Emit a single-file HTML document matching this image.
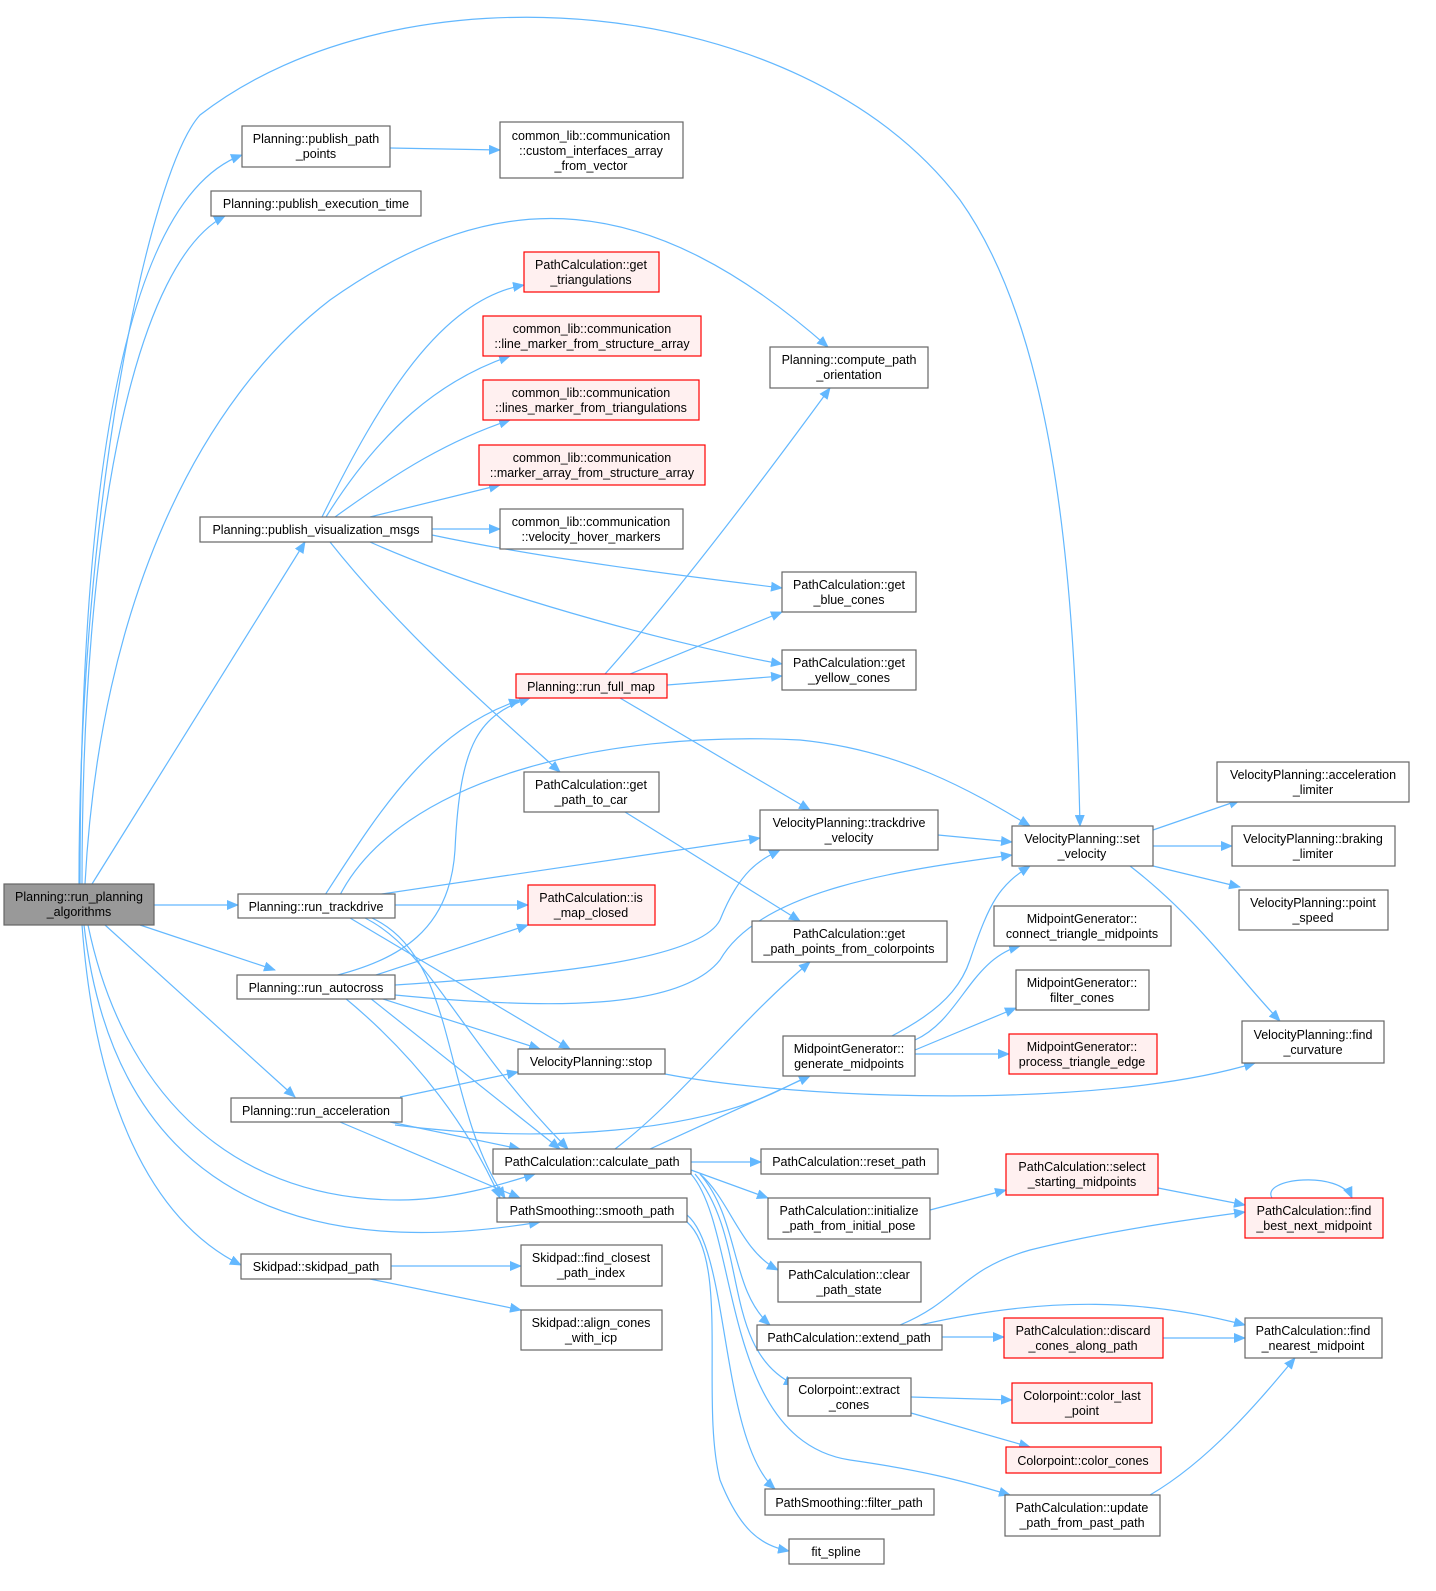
<!DOCTYPE html>
<html><head><meta charset="utf-8"><style>
html,body{margin:0;padding:0;background:#fff;}
svg{display:block;}
text{font-family:"Liberation Sans",Arial,sans-serif;font-size:12.5px;fill:#000;text-anchor:middle;}
.n{fill:#fff;stroke:#666;stroke-width:1.2;}
.r{fill:#fff0f0;stroke:#ff0000;stroke-width:1.2;}
.g{fill:#999;stroke:#666;stroke-width:1.2;}
path.e{fill:none;stroke:#63b8ff;stroke-width:1.2;marker-end:url(#a);}
</style></head><body>
<svg width="1436" height="1591" viewBox="0 0 1436 1591" xmlns="http://www.w3.org/2000/svg">
<defs><marker id="a" markerWidth="12" markerHeight="10" refX="11" refY="5" orient="auto" markerUnits="userSpaceOnUse"><path d="M0,0 L12,5 L0,10 z" fill="#63b8ff"/></marker></defs>

<!-- edges -->
<path class="e" d="M80,884 C80,500 120,200 242,155"/>
<path class="e" d="M82,884 C82,500 140,260 225,216"/>
<path class="e" d="M79,884 C79,500 150,170 200,115 C400,-40 800,-10 960,200 C1060,340 1075,600 1080,826"/>
<path class="e" d="M85,884 C100,600 200,400 330,300 C500,180 650,190 828,347"/>
<path class="e" d="M92,884 L305,542"/>
<path class="e" d="M154,905 L238,905"/>
<path class="e" d="M140,925 L275,970"/>
<path class="e" d="M105,925 L295,1097"/>
<path class="e" d="M88,925 C120,1080 220,1200 400,1200 C450,1200 500,1185 535,1174"/>
<path class="e" d="M84,925 C110,1150 250,1270 540,1222"/>
<path class="e" d="M82,925 C95,1100 150,1220 241,1265"/>
<path class="e" d="M390,148 L500,150"/>
<path class="e" d="M322,517 C380,400 440,300 524,285"/>
<path class="e" d="M326,517 C380,430 440,380 510,356"/>
<path class="e" d="M335,517 C400,470 450,440 510,420"/>
<path class="e" d="M370,517 L500,485"/>
<path class="e" d="M432,529 L500,529"/>
<path class="e" d="M432,535 C550,560 700,578 782,588"/>
<path class="e" d="M370,542 C500,600 700,650 782,664"/>
<path class="e" d="M330,542 C400,630 480,700 560,772"/>
<path class="e" d="M605,674 C680,590 770,470 830,388"/>
<path class="e" d="M630,674 L782,612"/>
<path class="e" d="M667,685 L782,676"/>
<path class="e" d="M620,698 L810,810"/>
<path class="e" d="M325,895 C380,810 430,730 520,700"/>
<path class="e" d="M340,895 C400,780 600,730 800,740 C900,750 970,790 1030,826"/>
<path class="e" d="M375,895 L760,838"/>
<path class="e" d="M395,905 L528,905"/>
<path class="e" d="M350,918 L570,1049"/>
<path class="e" d="M365,918 C430,950 460,1040 568,1149"/>
<path class="e" d="M372,918 C460,960 440,1100 505,1198"/>
<path class="e" d="M330,977 C400,960 450,930 455,850 C460,740 480,715 530,698"/>
<path class="e" d="M370,977 L528,925"/>
<path class="e" d="M395,985 C550,975 700,960 720,920 C740,870 760,860 780,850"/>
<path class="e" d="M395,995 C550,1010 680,1010 720,960 C760,890 900,870 1012,855"/>
<path class="e" d="M380,998 L540,1049"/>
<path class="e" d="M370,998 L560,1149"/>
<path class="e" d="M345,998 C420,1060 470,1130 500,1198"/>
<path class="e" d="M400,1097 L518,1072"/>
<path class="e" d="M395,1125 C550,1145 700,1130 780,1090 C880,1040 950,1020 970,960 C990,900 1000,885 1030,866"/>
<path class="e" d="M390,1122 L520,1149"/>
<path class="e" d="M340,1122 L520,1198"/>
<path class="e" d="M615,1149 C680,1100 740,1020 810,962"/>
<path class="e" d="M650,1149 L810,1076"/>
<path class="e" d="M691,1162 L761,1162"/>
<path class="e" d="M691,1170 L768,1198"/>
<path class="e" d="M700,1174 C730,1200 740,1250 778,1270"/>
<path class="e" d="M700,1174 C740,1220 730,1290 770,1325"/>
<path class="e" d="M695,1174 C750,1240 720,1350 795,1385"/>
<path class="e" d="M691,1174 C740,1230 720,1440 850,1460 C920,1470 960,1480 1010,1495"/>
<path class="e" d="M687,1215 C730,1250 720,1440 775,1489"/>
<path class="e" d="M687,1222 C730,1260 700,1400 720,1480 C740,1530 760,1545 789,1551"/>
<path class="e" d="M915,1040 C960,1020 970,960 1020,946"/>
<path class="e" d="M915,1050 L1016,1008"/>
<path class="e" d="M915,1054 L1009,1054"/>
<path class="e" d="M1153,830 L1240,800"/>
<path class="e" d="M1153,846 L1232,846"/>
<path class="e" d="M1153,866 L1240,887"/>
<path class="e" d="M1130,866 C1200,920 1240,980 1280,1021"/>
<path class="e" d="M665,1074 C800,1100 1100,1110 1255,1063"/>
<path class="e" d="M625,812 L800,921"/>
<path class="e" d="M938,835 L1012,842"/>
<path class="e" d="M930,1210 L1006,1190"/>
<path class="e" d="M1158,1188 L1245,1205"/>
<path class="e" d="M1272,1198 C1260,1178 1340,1170 1352,1198"/>
<path class="e" d="M900,1325 C960,1300 960,1270 1030,1250 C1110,1230 1200,1218 1245,1212"/>
<path class="e" d="M920,1325 C1050,1295 1150,1300 1245,1325"/>
<path class="e" d="M942,1337 L1004,1337"/>
<path class="e" d="M1163,1338 L1245,1338"/>
<path class="e" d="M911,1397 L1012,1400"/>
<path class="e" d="M911,1413 L1030,1447"/>
<path class="e" d="M1150,1495 C1210,1460 1260,1400 1295,1358"/>
<path class="e" d="M391,1266 L521,1266"/>
<path class="e" d="M370,1279 L521,1310"/>

<!-- nodes -->
<rect class="g" x="4" y="884" width="150" height="41"/><text x="79" y="901">Planning::run_planning</text><text x="79" y="916">_algorithms</text>
<rect class="n" x="242" y="126" width="148" height="41"/><text x="316" y="143">Planning::publish_path</text><text x="316" y="158">_points</text>
<rect class="n" x="500" y="122" width="183" height="56"/><text x="591" y="140">common_lib::communication</text><text x="591" y="155">::custom_interfaces_array</text><text x="591" y="170">_from_vector</text>
<rect class="n" x="211" y="191" width="210" height="25"/><text x="316" y="208">Planning::publish_execution_time</text>
<rect class="r" x="524" y="252" width="135" height="40"/><text x="591" y="269">PathCalculation::get</text><text x="591" y="284">_triangulations</text>
<rect class="r" x="483" y="316" width="218" height="40"/><text x="592" y="333">common_lib::communication</text><text x="592" y="348">::line_marker_from_structure_array</text>
<rect class="r" x="483" y="380" width="216" height="40"/><text x="591" y="397">common_lib::communication</text><text x="591" y="412">::lines_marker_from_triangulations</text>
<rect class="r" x="479" y="445" width="226" height="40"/><text x="592" y="462">common_lib::communication</text><text x="592" y="477">::marker_array_from_structure_array</text>
<rect class="n" x="500" y="509" width="183" height="40"/><text x="591" y="526">common_lib::communication</text><text x="591" y="541">::velocity_hover_markers</text>
<rect class="n" x="770" y="347" width="158" height="41"/><text x="849" y="364">Planning::compute_path</text><text x="849" y="379">_orientation</text>
<rect class="n" x="200" y="517" width="232" height="25"/><text x="316" y="534">Planning::publish_visualization_msgs</text>
<rect class="n" x="782" y="572" width="134" height="40"/><text x="849" y="589">PathCalculation::get</text><text x="849" y="604">_blue_cones</text>
<rect class="n" x="782" y="650" width="134" height="40"/><text x="849" y="667">PathCalculation::get</text><text x="849" y="682">_yellow_cones</text>
<rect class="r" x="516" y="674" width="151" height="24"/><text x="591" y="691">Planning::run_full_map</text>
<rect class="n" x="524" y="772" width="135" height="40"/><text x="591" y="789">PathCalculation::get</text><text x="591" y="804">_path_to_car</text>
<rect class="n" x="760" y="810" width="178" height="40"/><text x="849" y="827">VelocityPlanning::trackdrive</text><text x="849" y="842">_velocity</text>
<rect class="n" x="1012" y="826" width="141" height="40"/><text x="1082" y="843">VelocityPlanning::set</text><text x="1082" y="858">_velocity</text>
<rect class="n" x="1217" y="762" width="192" height="40"/><text x="1313" y="779">VelocityPlanning::acceleration</text><text x="1313" y="794">_limiter</text>
<rect class="n" x="1232" y="826" width="163" height="40"/><text x="1313" y="843">VelocityPlanning::braking</text><text x="1313" y="858">_limiter</text>
<rect class="n" x="1239" y="890" width="149" height="40"/><text x="1313" y="907">VelocityPlanning::point</text><text x="1313" y="922">_speed</text>
<rect class="n" x="1242" y="1021" width="142" height="42"/><text x="1313" y="1039">VelocityPlanning::find</text><text x="1313" y="1054">_curvature</text>
<rect class="n" x="238" y="894" width="157" height="24"/><text x="316" y="911">Planning::run_trackdrive</text>
<rect class="r" x="528" y="885" width="127" height="40"/><text x="591" y="902">PathCalculation::is</text><text x="591" y="917">_map_closed</text>
<rect class="n" x="752" y="921" width="195" height="41"/><text x="849" y="938">PathCalculation::get</text><text x="849" y="953">_path_points_from_colorpoints</text>
<rect class="n" x="994" y="906" width="177" height="40"/><text x="1082" y="923">MidpointGenerator::</text><text x="1082" y="938">connect_triangle_midpoints</text>
<rect class="n" x="1016" y="970" width="133" height="40"/><text x="1082" y="987">MidpointGenerator::</text><text x="1082" y="1002">filter_cones</text>
<rect class="r" x="1009" y="1034" width="148" height="40"/><text x="1082" y="1051">MidpointGenerator::</text><text x="1082" y="1066">process_triangle_edge</text>
<rect class="n" x="783" y="1036" width="132" height="40"/><text x="849" y="1053">MidpointGenerator::</text><text x="849" y="1068">generate_midpoints</text>
<rect class="n" x="237" y="975" width="158" height="24"/><text x="316" y="992">Planning::run_autocross</text>
<rect class="n" x="518" y="1049" width="147" height="25"/><text x="591" y="1066">VelocityPlanning::stop</text>
<rect class="n" x="231" y="1098" width="171" height="24"/><text x="316" y="1115">Planning::run_acceleration</text>
<rect class="n" x="493" y="1149" width="198" height="25"/><text x="592" y="1166">PathCalculation::calculate_path</text>
<rect class="n" x="761" y="1149" width="177" height="25"/><text x="849" y="1166">PathCalculation::reset_path</text>
<rect class="n" x="768" y="1198" width="162" height="41"/><text x="849" y="1215">PathCalculation::initialize</text><text x="849" y="1230">_path_from_initial_pose</text>
<rect class="r" x="1006" y="1154" width="152" height="41"/><text x="1082" y="1171">PathCalculation::select</text><text x="1082" y="1186">_starting_midpoints</text>
<rect class="r" x="1245" y="1198" width="138" height="40"/><text x="1314" y="1215">PathCalculation::find</text><text x="1314" y="1230">_best_next_midpoint</text>
<rect class="n" x="497" y="1198" width="190" height="24"/><text x="592" y="1215">PathSmoothing::smooth_path</text>
<rect class="n" x="778" y="1262" width="143" height="40"/><text x="849" y="1279">PathCalculation::clear</text><text x="849" y="1294">_path_state</text>
<rect class="n" x="241" y="1254" width="150" height="25"/><text x="316" y="1271">Skidpad::skidpad_path</text>
<rect class="n" x="521" y="1245" width="141" height="41"/><text x="591" y="1262">Skidpad::find_closest</text><text x="591" y="1277">_path_index</text>
<rect class="n" x="521" y="1310" width="141" height="40"/><text x="591" y="1327">Skidpad::align_cones</text><text x="591" y="1342">_with_icp</text>
<rect class="n" x="757" y="1325" width="185" height="25"/><text x="849" y="1342">PathCalculation::extend_path</text>
<rect class="r" x="1004" y="1318" width="159" height="40"/><text x="1083" y="1335">PathCalculation::discard</text><text x="1083" y="1350">_cones_along_path</text>
<rect class="n" x="1245" y="1318" width="137" height="40"/><text x="1313" y="1335">PathCalculation::find</text><text x="1313" y="1350">_nearest_midpoint</text>
<rect class="n" x="788" y="1378" width="123" height="38"/><text x="849" y="1394">Colorpoint::extract</text><text x="849" y="1409">_cones</text>
<rect class="r" x="1012" y="1383" width="140" height="40"/><text x="1082" y="1400">Colorpoint::color_last</text><text x="1082" y="1415">_point</text>
<rect class="r" x="1006" y="1447" width="155" height="26"/><text x="1083" y="1465">Colorpoint::color_cones</text>
<rect class="n" x="765" y="1489" width="169" height="26"/><text x="849" y="1507">PathSmoothing::filter_path</text>
<rect class="n" x="1005" y="1495" width="155" height="41"/><text x="1082" y="1512">PathCalculation::update</text><text x="1082" y="1527">_path_from_past_path</text>
<rect class="n" x="789" y="1539" width="95" height="25"/><text x="836" y="1556">fit_spline</text>
</svg>
</body></html>
